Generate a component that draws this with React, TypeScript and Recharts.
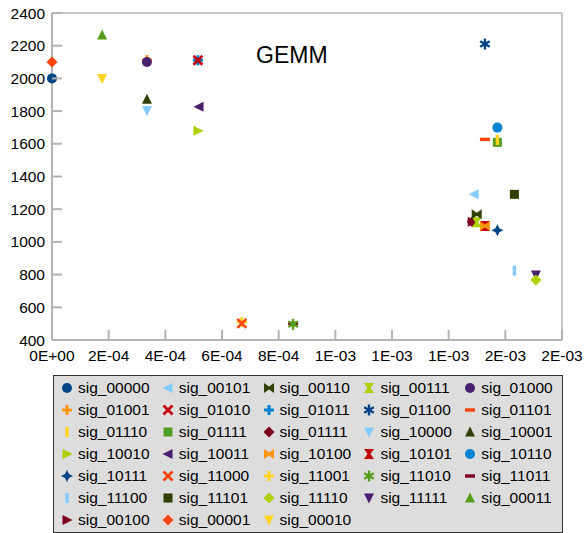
import React from 'react';
import { ScatterChart, Scatter, XAxis, YAxis, ReferenceLine } from 'recharts';

// ---- data ----
const seriesNames = [
  'sig_00000', 'sig_00101', 'sig_00110', 'sig_00111', 'sig_01000',
  'sig_01001', 'sig_01010', 'sig_01011', 'sig_01100', 'sig_01101',
  'sig_01110', 'sig_01111', 'sig_01111', 'sig_10000', 'sig_10001',
  'sig_10010', 'sig_10011', 'sig_10100', 'sig_10101', 'sig_10110',
  'sig_10111', 'sig_11000', 'sig_11001', 'sig_11010', 'sig_11011',
  'sig_11100', 'sig_11101', 'sig_11110', 'sig_11111', 'sig_00011',
  'sig_00100', 'sig_00001', 'sig_00010',
];
const seriesX = [
  0, 0.001490, 0.001499, 0.001499, 0.000335,
  0.000335, 0.000515, 0.000515, 0.001528, 0.001528,
  0.001572, 0.001572, 0.001483, 0.000335, 0.000335,
  0.000515, 0.000519, 0.001528, 0.001528, 0.001572,
  0.001572, 0.000670, 0.000670, 0.000851, 0.000851,
  0.001632, 0.001632, 0.001708, 0.001708, 0.000177,
  0.001483, 0, 0.000177,
];
const seriesY = [
  2000, 1291, 1169, 1120, 2100,
  2112, 2111, 2111, 2210, 1627,
  1624, 1609, 1124, 1803, 1872,
  1680, 1827, 1097, 1097, 1699,
  1071, 502, 510, 496, 502,
  824, 1291, 767, 798, 2265,
  1124, 2100, 2000,
];
const xTicks = [0, 0.0002, 0.0004, 0.0006, 0.0008, 0.001, 0.0012, 0.0014, 0.0016, 0.0018];
const xTickLabels = ['0E+00', '2E-04', '4E-04', '6E-04', '8E-04', '1E-03', '1E-03', '1E-03', '2E-03', '2E-03'];
const yTicks = [400, 600, 800, 1000, 1200, 1400, 1600, 1800, 2000, 2200, 2400];
const chartTitle = 'GEMM';

// ---- styles ----
const C = {
  dblue: '#004586', orange: '#ff950e', red: '#c5000b', blue: '#0084d1',
  oranger: '#ff420e', yellow: '#ffd320', green: '#579d1c', maroon: '#7e0021',
  lblue: '#83caff', dgreen: '#314004', ygreen: '#aecf00', purple: '#4b1f6f',
};
const seriesStyle: { kind: string; color: string }[] = [
  { kind: 'circle', color: C.dblue }, { kind: 'triLeft', color: C.lblue }, { kind: 'bowtie', color: C.dgreen },
  { kind: 'hourglass', color: C.ygreen }, { kind: 'circle', color: C.purple },
  { kind: 'plus', color: C.orange }, { kind: 'x', color: C.red }, { kind: 'plus', color: C.blue },
  { kind: 'asterisk', color: C.dblue }, { kind: 'hbar', color: C.oranger },
  { kind: 'vbar', color: C.yellow }, { kind: 'square', color: C.green }, { kind: 'diamond', color: C.maroon },
  { kind: 'triDown', color: C.lblue }, { kind: 'triUp', color: C.dgreen },
  { kind: 'triRight', color: C.ygreen }, { kind: 'triLeft', color: C.purple }, { kind: 'bowtie', color: C.orange },
  { kind: 'hourglass', color: C.red }, { kind: 'circle', color: C.blue },
  { kind: 'star4', color: C.dblue }, { kind: 'x', color: C.oranger }, { kind: 'plus', color: C.yellow },
  { kind: 'asterisk', color: C.green }, { kind: 'hbar', color: C.maroon },
  { kind: 'vbar', color: C.lblue }, { kind: 'square', color: C.dgreen }, { kind: 'diamond', color: C.ygreen },
  { kind: 'triDown', color: C.purple }, { kind: 'triUp', color: C.green },
  { kind: 'triRight', color: C.maroon }, { kind: 'diamond', color: C.oranger }, { kind: 'triDown', color: C.yellow },
];

const FONT = '"Liberation Sans", Arial, sans-serif';
const AXIS = '#b3b3b3';

function pts(a: number[][]) {
  return a.map((p) => p.join(',')).join(' ');
}

function renderMarker(kind: string, cx: number, cy: number, color: string) {
  switch (kind) {
    case 'circle':
      return <circle cx={cx} cy={cy} r={5} fill={color} />;
    case 'square':
      return <rect x={cx - 4.5} y={cy - 4.5} width={9} height={9} fill={color} />;
    case 'diamond':
      return <polygon points={pts([[cx, cy - 5.5], [cx + 5.5, cy], [cx, cy + 5.5], [cx - 5.5, cy]])} fill={color} />;
    case 'triUp':
      return <polygon points={pts([[cx, cy - 5.5], [cx + 5, cy + 4.5], [cx - 5, cy + 4.5]])} fill={color} />;
    case 'triDown':
      return <polygon points={pts([[cx - 5, cy - 4.5], [cx + 5, cy - 4.5], [cx, cy + 5.5]])} fill={color} />;
    case 'triLeft':
      return <polygon points={pts([[cx - 5.5, cy], [cx + 4.5, cy - 5], [cx + 4.5, cy + 5]])} fill={color} />;
    case 'triRight':
      return <polygon points={pts([[cx + 5.5, cy], [cx - 4.5, cy - 5], [cx - 4.5, cy + 5]])} fill={color} />;
    case 'bowtie':
      return (
        <polygon
          points={pts([[cx - 5, cy - 5], [cx, cy - 1.5], [cx + 5, cy - 5], [cx + 5, cy + 5], [cx, cy + 1.5], [cx - 5, cy + 5]])}
          fill={color}
        />
      );
    case 'hourglass':
      return (
        <polygon
          points={pts([[cx - 5, cy - 5], [cx + 5, cy - 5], [cx + 1.5, cy], [cx + 5, cy + 5], [cx - 5, cy + 5], [cx - 1.5, cy]])}
          fill={color}
        />
      );
    case 'plus':
      return (
        <g fill={color}>
          <rect x={cx - 5} y={cy - 1.5} width={10} height={3} />
          <rect x={cx - 1.5} y={cy - 5} width={3} height={10} />
        </g>
      );
    case 'star4':
      return (
        <polygon
          points={pts([[cx, cy - 6], [cx + 2, cy - 2], [cx + 6, cy], [cx + 2, cy + 2], [cx, cy + 6], [cx - 2, cy + 2], [cx - 6, cy], [cx - 2, cy - 2]])}
          fill={color}
        />
      );
    case 'x':
      return (
        <g stroke={color} strokeWidth={2.6}>
          <line x1={cx - 4.5} y1={cy - 4.5} x2={cx + 4.5} y2={cy + 4.5} />
          <line x1={cx - 4.5} y1={cy + 4.5} x2={cx + 4.5} y2={cy - 4.5} />
        </g>
      );
    case 'asterisk': {
      const r = 5.5;
      const a = Math.cos(Math.PI / 6) * r;
      const b = Math.sin(Math.PI / 6) * r;
      return (
        <g stroke={color} strokeWidth={2.4}>
          <line x1={cx} y1={cy - r} x2={cx} y2={cy + r} />
          <line x1={cx - a} y1={cy - b} x2={cx + a} y2={cy + b} />
          <line x1={cx - a} y1={cy + b} x2={cx + a} y2={cy - b} />
        </g>
      );
    }
    case 'hbar':
      return <rect x={cx - 5} y={cy - 1.7} width={10} height={3.4} fill={color} />;
    case 'vbar':
      return <rect x={cx - 1.7} y={cy - 5} width={3.4} height={10} fill={color} />;
    default:
      return <circle cx={cx} cy={cy} r={5} fill={color} />;
  }
}

const XTick = (props: any) => {
  const { x, y, index } = props;
  return (
    <g>
      <line x1={x} y1={y} x2={x} y2={y - 10} stroke={AXIS} strokeWidth={2} />
      <text x={x} y={y + 21} textAnchor="middle" fontFamily={FONT} fontSize={15.5} fill="#000">
        {xTickLabels[index]}
      </text>
    </g>
  );
};

const YTick = (props: any) => {
  const { x, y, payload } = props;
  return (
    <g>
      <line x1={x} y1={y} x2={x + 10} y2={y} stroke={AXIS} strokeWidth={2} />
      <text x={x - 7} y={y} dy="0.36em" textAnchor="end" fontFamily={FONT} fontSize={15.5} fill="#000">
        {payload.value}
      </text>
    </g>
  );
};

export default function App() {
  const order = seriesNames.map((_, i) => i).reverse();
  return (
    <div style={{ position: 'absolute', left: 0, top: 0, width: 584, height: 533, background: '#fff' }}>
      <ScatterChart width={584} height={533} margin={{ top: 13, right: 22, left: 0, bottom: 163 }}>
        <XAxis
          type="number"
          dataKey="x"
          domain={[0, 0.0018]}
          ticks={xTicks}
          interval={0}
          height={30}
          tickSize={0}
          tickMargin={0}
          tickLine={false}
          axisLine={{ stroke: AXIS, strokeWidth: 2 }}
          tick={<XTick />}
        />
        <YAxis
          type="number"
          dataKey="y"
          domain={[400, 2400]}
          ticks={yTicks}
          interval={0}
          width={52}
          tickSize={0}
          tickMargin={0}
          tickLine={false}
          axisLine={{ stroke: AXIS, strokeWidth: 2 }}
          tick={<YTick />}
        />
        <ReferenceLine y={2400} stroke={AXIS} strokeWidth={1.5} />
        <ReferenceLine x={0.0018} stroke={AXIS} strokeWidth={1.5} />
        {order.map((i) => (
          <Scatter
            key={i}
            name={seriesNames[i]}
            data={[{ x: seriesX[i], y: seriesY[i] }]}
            isAnimationActive={false}
            shape={(p: any) => renderMarker(seriesStyle[i].kind, p.cx, p.cy, seriesStyle[i].color)}
          />
        ))}
      </ScatterChart>
      <div
        style={{
          position: 'absolute',
          left: 256,
          top: 40,
          fontFamily: FONT,
          fontSize: 23,
          lineHeight: '30px',
          color: '#000',
        }}
      >
        {chartTitle}
      </div>
      <div
        style={{
          position: 'absolute',
          left: 53,
          top: 375,
          width: 508,
          height: 156,
          background: '#dddddd',
          border: '1px solid #333',
        }}
      >
        {seriesNames.map((name, i) => {
          const col = i % 5;
          const row = Math.floor(i / 5);
          const mx = 13 + col * 100.8;
          const my = 12 + row * 22;
          return (
            <div key={i} style={{ position: 'absolute', left: mx - 8, top: my - 10, height: 20, display: 'flex', alignItems: 'center' }}>
              <svg width={16} height={16} style={{ display: 'block' }}>
                {renderMarker(seriesStyle[i].kind, 8, 8, seriesStyle[i].color)}
              </svg>
              <span
                style={{
                  marginLeft: 3,
                  fontFamily: FONT,
                  fontSize: 15.5,
                  lineHeight: '20px',
                  color: '#000',
                  whiteSpace: 'nowrap',
                }}
              >
                {name}
              </span>
            </div>
          );
        })}
      </div>
    </div>
  );
}
